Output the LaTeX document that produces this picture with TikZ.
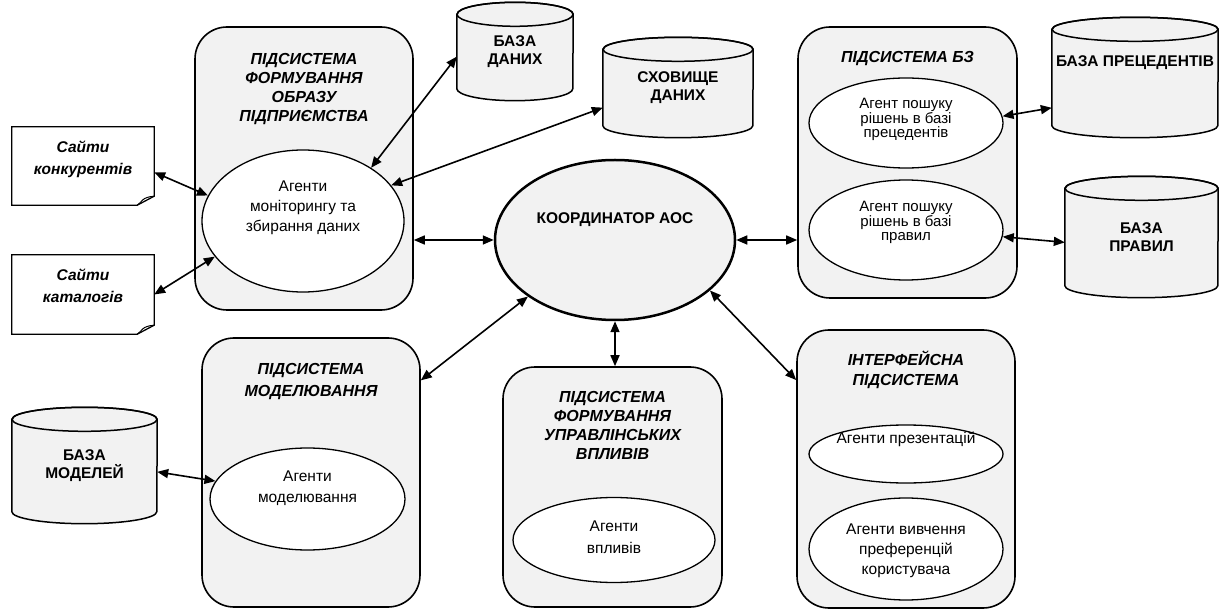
\documentclass[tikz,border=0pt]{standalone}
\usepackage{fontspec}
\setmainfont{Liberation Sans}
\usetikzlibrary{shapes,positioning,arrows.meta,calc}
\pgfdeclarelayer{background}
\pgfsetlayers{background,main}
\definecolor{shade}{RGB}{242,242,242}

% cylinder drawn behind its body node
\newcommand{\dbase}[2]{%
  \begin{pgfonlayer}{background}
    \filldraw[fill=shade, line width=1.5pt] (#1.north west) -- (#1.south west)
      arc[start angle=180, end angle=360, x radius=#2pt, y radius=12pt]
      -- (#1.north east)
      arc[start angle=0, end angle=180, x radius=#2pt, y radius=12pt] -- cycle;
    \draw[line width=1.5pt] (#1.north) ellipse[x radius=#2pt, y radius=12pt];
  \end{pgfonlayer}}

% sheet with folded corner
\newcommand{\docsheet}[1]{%
  \draw[line width=1.3pt] (#1.north west) -- (#1.north east) -- ([yshift=9pt]#1.south east)
    -- ([xshift=-17pt]#1.south east) -- (#1.south west) -- cycle;
  \draw[line width=1pt] ([xshift=-17pt]#1.south east)
    .. controls ([xshift=-12pt,yshift=3pt]#1.south east) and ([xshift=-13pt,yshift=8pt]#1.south east)
    .. ([yshift=9pt]#1.south east);}

\begin{document}
\begin{tikzpicture}[x=1pt, y=-1pt,
    every node/.style={font=\fontsize{15.5}{20}\selectfont},
    subsys/.style={draw, line width=1.6pt, fill=shade, rounded corners=32pt},
    agent/.style={draw, ellipse, line width=1.3pt, fill=white},
    sheetbox/.style={fill=white, minimum width=142pt, minimum height=78pt},
    dbody/.style={inner sep=0pt, align=center, font=\fontsize{15.5}{18}\selectfont\bfseries},
    title/.style={inner sep=0pt, align=center, font=\fontsize{16}{19}\selectfont\bfseries\itshape},
    txt/.style={inner sep=0pt, align=center},
    link/.style={{Triangle[length=11pt,width=9pt]}-{Triangle[length=11pt,width=9pt]}, line width=1.6pt}
  ]
  \useasboundingbox (0,0) rectangle (1220,609);

  % subsystems
  \node[subsys, minimum width=218pt, minimum height=283pt] (s1) at (304,168.5) {};
  \node[subsys, minimum width=219pt, minimum height=271pt] (bz) at (907.5,162.5) {};
  \node[subsys, minimum width=218pt, minimum height=269pt] (s2) at (311,472.5) {};
  \node[subsys, minimum width=219pt, minimum height=240pt] (s3) at (612.5,487) {};
  \node[subsys, minimum width=218pt, minimum height=278pt] (s4) at (906,469) {};

  \node[title, below=27pt of s1.north] (s1t) {ПІДСИСТЕМА\\ФОРМУВАННЯ\\ОБРАЗУ\\ПІДПРИЄМСТВА};
  \node[title, below=25pt of bz.north] (bzt) {ПІДСИСТЕМА БЗ};
  \node[title, below=26pt of s2.north, font=\fontsize{16}{21.5}\selectfont\bfseries\itshape] (s2t) {ПІДСИСТЕМА\\МОДЕЛЮВАННЯ};
  \node[title, below=25pt of s3.north] (s3t) {ПІДСИСТЕМА\\ФОРМУВАННЯ\\УПРАВЛІНСЬКИХ\\ВПЛИВІВ};
  \node[title, below=22pt of s4.north, font=\fontsize{16}{20}\selectfont\bfseries\itshape] (s4t) {ІНТЕРФЕЙСНА\\ПІДСИСТЕМА};

  % agents
  \node[agent, minimum width=202pt, minimum height=142pt] (a1) at (303,221) {};
  \node[txt, below=31pt of a1.north] (a1t) {Агенти\\моніторингу та\\збирання даних};
  \node[agent, minimum width=194pt, minimum height=90pt] (bz1) at (906,123) {};
  \node[txt, below=21pt of bz1.north, font=\fontsize{15}{14}\selectfont] (bz1t) {Агент пошуку\\рішень в базі\\прецедентів};
  \node[agent, minimum width=194pt, minimum height=100pt] (bz2) at (906,230) {};
  \node[txt, below=22pt of bz2.north, font=\fontsize{15}{14}\selectfont] (bz2t) {Агент пошуку\\рішень в базі\\правил};
  \node[agent, minimum width=195pt, minimum height=102pt] (amod) at (307.5,499) {};
  \node[txt, below=23pt of amod.north, font=\fontsize{15.5}{21.5}\selectfont] (amodt) {Агенти\\моделювання};
  \node[agent, minimum width=202pt, minimum height=85pt] (avpl) at (614,540) {};
  \node[txt, below=24pt of avpl.north, font=\fontsize{15.5}{21.5}\selectfont] (avplt) {Агенти\\впливів};
  \node[agent, minimum width=194pt, minimum height=58pt] (apres) at (906,454) {};
  \node[txt, below=7pt of apres.north] (aprest) {Агенти презентацій};
  \node[agent, minimum width=194pt, minimum height=102pt] (apref) at (906,549) {};
  \node[txt, below=26pt of apref.north] (apreft) {Агенти вивчення\\преференцій\\користувача};

  % coordinator
  \node[draw, ellipse, fill=shade, line width=2.5pt, minimum width=240pt, minimum height=160pt] (ko) at (615,240) {};
  \node[dbody, below=54pt of ko.north] (kot) {КООРДИНАТОР АОС};

  % data stores
  \node[dbody, minimum width=116pt, minimum height=74pt] (bd) at (515,51.5) {БАЗА\\ДАНИХ};
  \dbase{bd}{58}
  \node[dbody, minimum width=150pt, minimum height=76pt] (sx) at (678,87.5) {СХОВИЩЕ\\ДАНИХ};
  \dbase{sx}{75}
  \node[dbody, minimum width=166pt, minimum height=96pt] (pr) at (1135,77.5) {};
  \dbase{pr}{83}
  \node[dbody, below=26pt of pr.north] (prt) {БАЗА ПРЕЦЕДЕНТІВ};
  \node[dbody, minimum width=153pt, minimum height=97pt] (pv) at (1141.5,237) {БАЗА\\ПРАВИЛ};
  \dbase{pv}{76.5}
  \node[dbody, minimum width=145pt, minimum height=92pt] (bm) at (84.5,465.5) {БАЗА\\МОДЕЛЕЙ};
  \dbase{bm}{72.5}

  % web sources
  \node[sheetbox] (d1) at (83,166) {};
  \docsheet{d1}
  \node[title, below=14pt of d1.north, font=\fontsize{15.5}{21.5}\selectfont\bfseries\itshape] (d1t) {Сайти\\конкурентів};
  \node[sheetbox, minimum height=79pt] (d2) at (83,294.5) {};
  \docsheet{d2}
  \node[title, below=14pt of d2.north, font=\fontsize{15.5}{21.5}\selectfont\bfseries\itshape] (d2t) {Сайти\\каталогів};

  % links
  \draw[link] (d1.-5) -- (a1.165);
  \draw[link] (d2.east) -- (a1.202);
  \draw[link] (bd.185) -- (a1.38);
  \draw[link] (sx.195) -- (a1.22);
  \draw[link] (s1.east |- ko.west) -- (ko.west);
  \draw[link] (ko.east) -- (ko.east -| bz.west);
  \draw[link] (bz1.4) -- (pr.200);
  \draw[link] (bz2.-4) -- (pv.184);
  \draw[link] (ko.213) -- (s2.40);
  \draw[link] (ko.south) -- (ko.south |- s3.north);
  \draw[link] (ko.-28) -- (s4.141);
  \draw[link] (bm.-5) -- (amod.169);
\end{tikzpicture}
\end{document}
